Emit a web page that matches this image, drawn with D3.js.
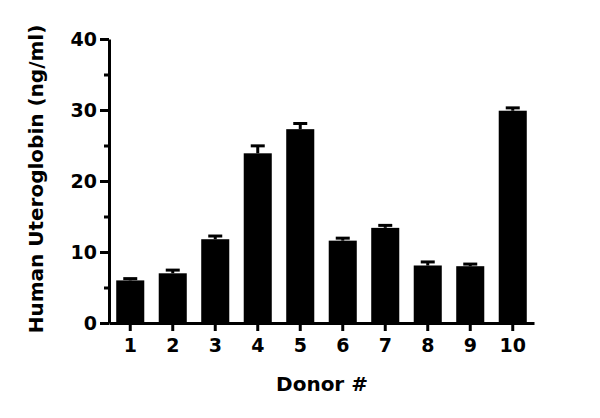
<!doctype html>
<html lang="en">
<head>
  <meta charset="utf-8">
  <title>Human Uteroglobin by Donor</title>
  <script src="https://d3js.org/d3.v7.min.js"></script>
  <style>
    body { margin: 0; background: #fff; }
    text { font-family: "DejaVu Sans", sans-serif; font-weight: bold; fill: #000; }
  </style>
</head>
<body>
<svg id="chart" width="600" height="418"></svg>
<script>
  // values
  var donors = ["1", "2", "3", "4", "5", "6", "7", "8", "9", "10"];
  var means = [6.0, 7.0, 11.8, 23.9, 27.3, 11.6, 13.4, 8.1, 8.0, 29.9];
  var errors = [0.25, 0.45, 0.45, 1.05, 0.8, 0.35, 0.35, 0.5, 0.3, 0.4];
  var yTicks = [0, 10, 20, 30, 40];
  var yMinor = [5, 15, 25, 35];

  var svg = d3.select("#chart");
  var x0 = 109, x1 = 534, y0 = 323, y1 = 39;

  var x = d3.scaleBand()
      .domain(donors)
      .range([x0, x1])
      .paddingInner(0.34)
      .paddingOuter(0.17);

  var y = d3.scaleLinear()
      .domain([0, 40])
      .range([y0, y1]);

  // bars
  svg.selectAll(".bar")
      .data(donors)
      .enter().append("rect")
      .attr("class", "bar")
      .attr("x", function(d) { return x(d); })
      .attr("width", x.bandwidth())
      .attr("y", function(d, i) { return y(means[i]); })
      .attr("height", function(d, i) { return y0 - y(means[i]); })
      .style("fill", "#000");

  // error bars (upper only)
  var eb = svg.selectAll(".err")
      .data(donors)
      .enter().append("g")
      .attr("class", "err");
  eb.append("line")
      .attr("x1", function(d) { return x(d) + x.bandwidth() / 2; })
      .attr("x2", function(d) { return x(d) + x.bandwidth() / 2; })
      .attr("y1", function(d, i) { return y(means[i]); })
      .attr("y2", function(d, i) { return y(means[i] + errors[i]); })
      .style("stroke", "#000").style("stroke-width", 3);
  eb.append("line")
      .attr("x1", function(d) { return x(d) + x.bandwidth() / 2 - 7; })
      .attr("x2", function(d) { return x(d) + x.bandwidth() / 2 + 7; })
      .attr("y1", function(d, i) { return y(means[i] + errors[i]); })
      .attr("y2", function(d, i) { return y(means[i] + errors[i]); })
      .style("stroke", "#000").style("stroke-width", 3);

  // y axis
  svg.append("g")
      .attr("transform", "translate(" + x0 + ",0)")
      .call(d3.axisLeft(y).tickValues(yTicks).tickSize(9).tickPadding(3).tickSizeOuter(0));
  svg.append("g")
      .attr("transform", "translate(" + x0 + ",0)")
      .call(d3.axisLeft(y).tickValues(yMinor).tickSize(5).tickFormat("").tickSizeOuter(0))
      .select(".domain").remove();

  // x axis
  svg.append("g")
      .attr("transform", "translate(0," + y0 + ")")
      .call(d3.axisBottom(x).tickSize(8).tickPadding(8).tickSizeOuter(0));

  svg.selectAll(".domain").style("stroke", "#000").style("stroke-width", 3);
  svg.selectAll(".tick line").style("stroke", "#000").style("stroke-width", 3);
  svg.selectAll(".tick text").style("font-size", "19px")
      .style("font-family", "'DejaVu Sans', sans-serif").style("font-weight", "bold");

  // titles
  svg.append("text")
      .attr("x", 322)
      .attr("y", 391)
      .attr("text-anchor", "middle")
      .style("font-size", "20px")
      .text("Donor #");

  svg.append("text")
      .attr("transform", "translate(43,179) rotate(-90)")
      .attr("text-anchor", "middle")
      .style("font-size", "20px")
      .text("Human Uteroglobin (ng/ml)");
</script>
</body>
</html>
